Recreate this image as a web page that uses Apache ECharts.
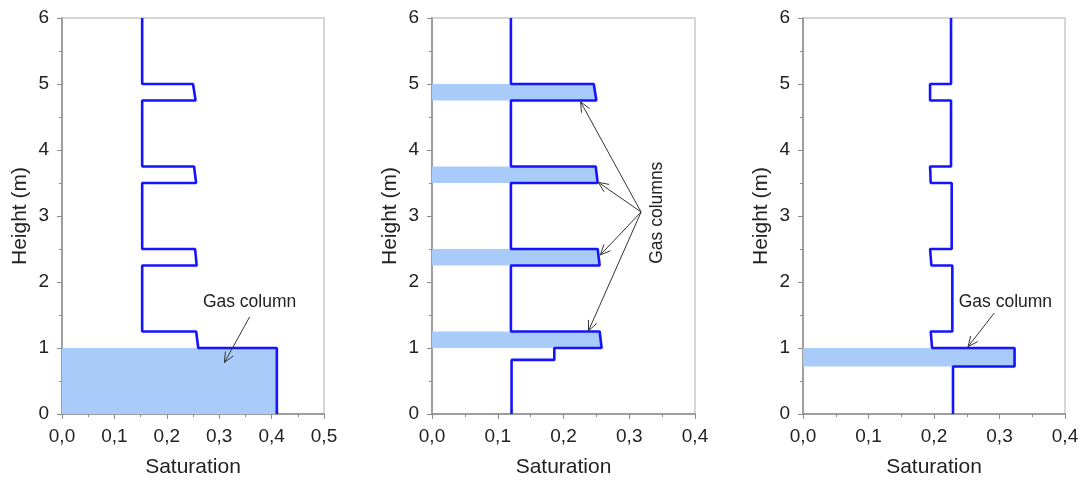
<!DOCTYPE html>
<html>
<head>
<meta charset="utf-8">
<script src="https://cdn.jsdelivr.net/npm/echarts@6/dist/echarts.min.js"></script>
<style>
  html, body { margin: 0; padding: 0; background: #fff; }
  #chart { width: 1083px; height: 485px; }
</style>
</head>
<body>
<div id="chart"></div>
<script>
// saturation profiles (x) vs height (y), one pair per panel
const sat1 = [0.153, 0.153, 0.25, 0.255, 0.153, 0.153, 0.252, 0.256, 0.153, 0.153, 0.254, 0.257, 0.153, 0.153, 0.256, 0.26, 0.41, 0.41]
const height1 = [6, 5, 5, 4.75, 4.75, 3.75, 3.75, 3.5, 3.5, 2.5, 2.5, 2.25, 2.25, 1.25, 1.25, 1, 1, 0]

const sat2 = [0.12, 0.12, 0.246, 0.25, 0.12, 0.12, 0.249, 0.252, 0.12, 0.12, 0.252, 0.255, 0.12, 0.12, 0.255, 0.258, 0.186, 0.186, 0.121, 0.121]
const height2 = [6, 5, 5, 4.75, 4.75, 3.75, 3.75, 3.5, 3.5, 2.5, 2.5, 2.25, 2.25, 1.25, 1.25, 1, 1, 0.82, 0.82, 0]

const sat3 = [0.226, 0.226, 0.194, 0.194, 0.226, 0.226, 0.194, 0.195, 0.227, 0.227, 0.194, 0.196, 0.228, 0.228, 0.195, 0.197, 0.323, 0.323, 0.229, 0.229]
const height3 = [6, 5, 5, 4.75, 4.75, 3.75, 3.75, 3.5, 3.5, 2.5, 2.5, 2.25, 2.25, 1.25, 1.25, 1, 1, 0.72, 0.72, 0]

// gas columns (shaded bands): saturation reached, bottom and top height
const gasSat1 = [0.41]
const gasBottom1 = [0]
const gasTop1 = [1]
const gasSat2 = [0.248, 0.25, 0.253, 0.256]
const gasBottom2 = [4.75, 3.5, 2.25, 1]
const gasTop2 = [5, 3.75, 2.5, 1.25]
const gasSat3 = [0.323]
const gasBottom3 = [0.72]
const gasTop3 = [1]

// annotation anchors in data units
const noteText = ["Gas column", "Gas columns", "Gas column"]
const noteX = [0.358, 0.343, 0.309]
const noteY = [1.69, 3.05, 1.70]
const arrows1 = [[0.358, 1.47, 0.31, 0.78]]
const arrows2 = [[0.318, 3.06, 0.226, 4.73], [0.318, 3.06, 0.253, 3.51], [0.318, 3.06, 0.256, 2.41], [0.318, 3.06, 0.238, 1.26]]
const arrows3 = [[0.292, 1.53, 0.252, 1.02]]

const xMax = [0.5, 0.4, 0.4]
const yTicks = [0, 1, 2, 3, 4, 5, 6]

const FONT = "'Liberation Sans', Arial, sans-serif"
const LINE = "#1414ff"
const FILL = "#a9cbfa"

const zip = (a, b) => a.map((v, i) => [v, b[i]])

const chart = echarts.init(document.getElementById("chart"))

const grids = [
  { left: 62, top: 18, width: 262, height: 396 },
  { left: 432, top: 18, width: 263, height: 396 },
  { left: 803, top: 18, width: 262, height: 396 },
].map((g) => Object.assign({ show: true, borderColor: "#c9c9c9", borderWidth: 1.5, backgroundColor: "transparent" }, g))

const xAxes = xMax.map((mx, i) => ({
  type: "value",
  gridIndex: i,
  min: 0,
  max: mx,
  interval: 0.1,
  name: "Saturation",
  nameLocation: "middle",
  nameGap: 43,
  nameTextStyle: { fontFamily: FONT, fontSize: 21, color: "#222" },
  axisLine: { show: true, lineStyle: { color: "#8c8c8c", width: 1.5 } },
  axisTick: { show: true, length: 5, lineStyle: { color: "#8c8c8c" } },
  minorTick: { show: true, splitNumber: 2, length: 3, lineStyle: { color: "#8c8c8c" } },
  splitLine: { show: false },
  axisLabel: {
    fontFamily: FONT, fontSize: 19, color: "#222", margin: 13,
    formatter: (v) => v.toFixed(1).replace(".", ","),
  },
}))

const yAxes = xMax.map((mx, i) => ({
  type: "value",
  gridIndex: i,
  min: yTicks[0],
  max: yTicks[yTicks.length - 1],
  interval: 1,
  name: "Height (m)",
  nameLocation: "middle",
  nameGap: 31,
  nameTextStyle: { fontFamily: FONT, fontSize: 21, color: "#222" },
  axisLine: { show: true, lineStyle: { color: "#8c8c8c", width: 1.5 } },
  axisTick: { show: true, length: 5, lineStyle: { color: "#8c8c8c" } },
  minorTick: { show: true, splitNumber: 2, length: 3, lineStyle: { color: "#8c8c8c" } },
  splitLine: { show: false },
  axisLabel: { fontFamily: FONT, fontSize: 19, color: "#222", margin: 13 },
}))

function bandSeries(idx, sats, bottoms, tops) {
  return {
    type: "custom",
    xAxisIndex: idx,
    yAxisIndex: idx,
    z: 1,
    silent: true,
    data: sats.map((s, i) => [0, bottoms[i], s, tops[i]]),
    encode: { x: [0, 2], y: [1, 3] },
    renderItem: (params, api) => {
      const p0 = api.coord([api.value(0), api.value(3)])
      const p1 = api.coord([api.value(2), api.value(1)])
      return {
        type: "rect",
        shape: { x: p0[0], y: p0[1], width: p1[0] - p0[0], height: p1[1] - p0[1] },
        style: { fill: FILL },
      }
    },
  }
}

function profileSeries(idx, sats, heights) {
  return {
    type: "line",
    xAxisIndex: idx,
    yAxisIndex: idx,
    z: 3,
    data: zip(sats, heights),
    showSymbol: false,
    symbol: "none",
    lineStyle: { color: LINE, width: 2.6 },
    animation: false,
  }
}

function arrowSeries(idx, arrows) {
  return {
    type: "custom",
    xAxisIndex: idx,
    yAxisIndex: idx,
    z: 4,
    silent: true,
    clip: false,
    data: arrows,
    encode: { x: [0, 2], y: [1, 3] },
    renderItem: (params, api) => {
      const a = api.coord([api.value(0), api.value(1)])
      const b = api.coord([api.value(2), api.value(3)])
      const ang = Math.atan2(b[1] - a[1], b[0] - a[0])
      const len = 11, spread = 0.42
      const h1 = [b[0] - len * Math.cos(ang - spread), b[1] - len * Math.sin(ang - spread)]
      const h2 = [b[0] - len * Math.cos(ang + spread), b[1] - len * Math.sin(ang + spread)]
      const st = { stroke: "#333", lineWidth: 1, fill: null }
      return {
        type: "group",
        children: [
          { type: "line", shape: { x1: a[0], y1: a[1], x2: b[0], y2: b[1] }, style: st },
          { type: "polyline", shape: { points: [h1, b, h2] }, style: st },
        ],
      }
    },
  }
}

function noteSeries(idx, rotate) {
  return {
    type: "custom",
    xAxisIndex: idx,
    yAxisIndex: idx,
    z: 5,
    silent: true,
    clip: false,
    data: [[noteX[idx], noteY[idx]]],
    renderItem: (params, api) => {
      const p = api.coord([api.value(0), api.value(1)])
      return {
        type: "text",
        x: p[0],
        y: p[1],
        rotation: rotate ? Math.PI / 2 : 0,
        style: {
          text: noteText[idx],
          fill: "#222",
          font: "17.5px " + FONT,
          align: "center",
          verticalAlign: "middle",
        },
      }
    },
  }
}

chart.setOption({
  animation: false,
  grid: grids,
  xAxis: xAxes,
  yAxis: yAxes,
  series: [
    bandSeries(0, gasSat1, gasBottom1, gasTop1),
    bandSeries(1, gasSat2, gasBottom2, gasTop2),
    bandSeries(2, gasSat3, gasBottom3, gasTop3),
    profileSeries(0, sat1, height1),
    profileSeries(1, sat2, height2),
    profileSeries(2, sat3, height3),
    arrowSeries(0, arrows1),
    arrowSeries(1, arrows2),
    arrowSeries(2, arrows3),
    noteSeries(0, false),
    noteSeries(1, true),
    noteSeries(2, false),
  ],
})

window.addEventListener("resize", () => {
  chart.resize()
})
</script>
</body>
</html>
